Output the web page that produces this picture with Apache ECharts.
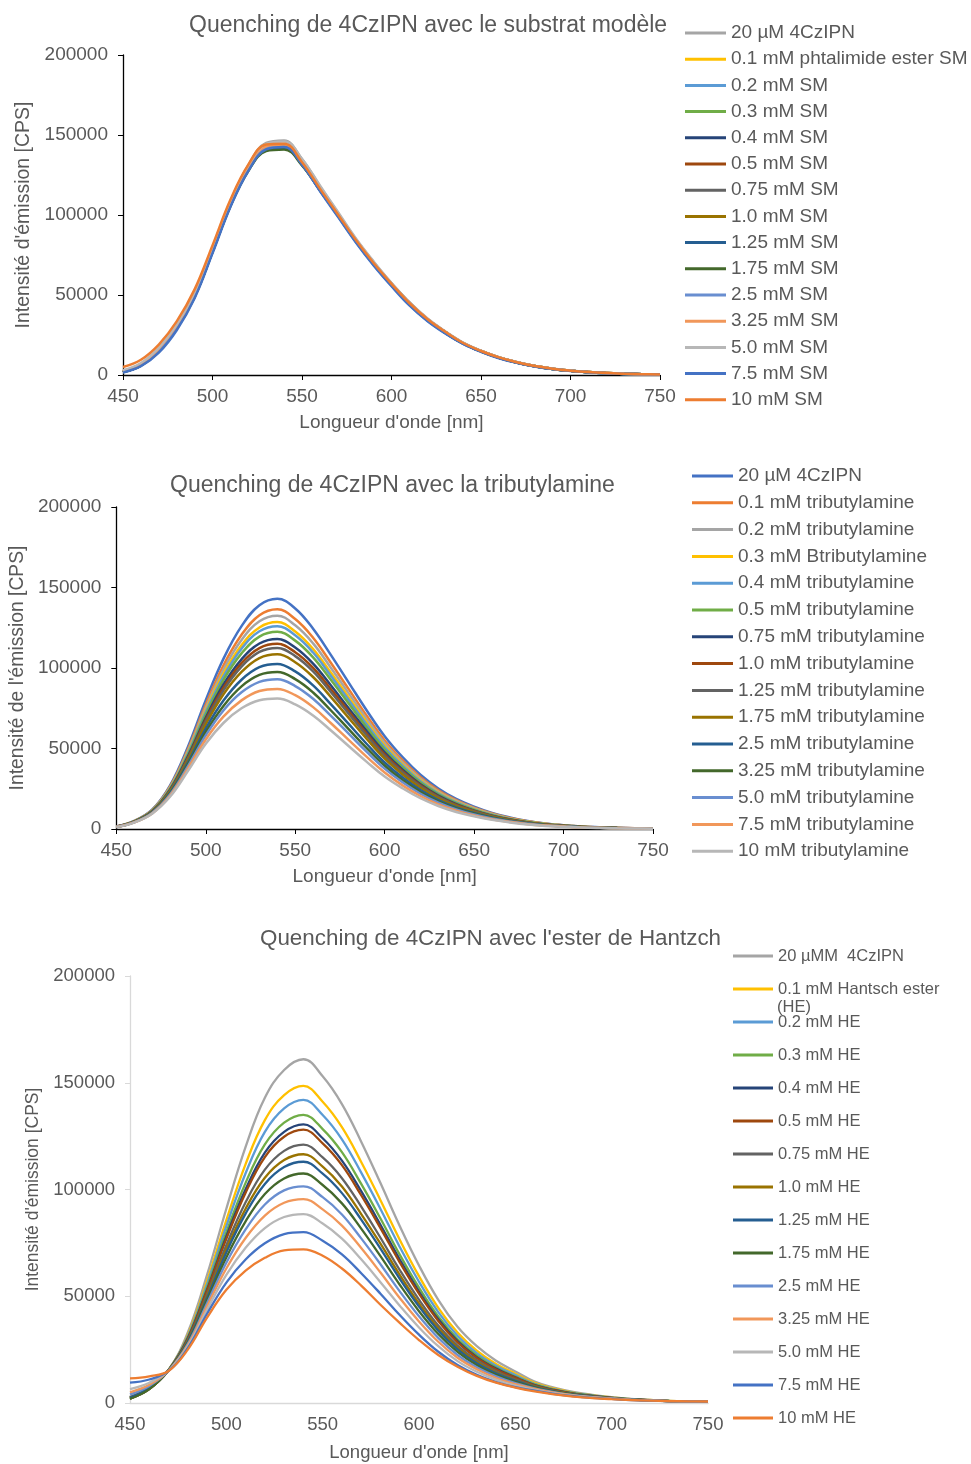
<!DOCTYPE html>
<html>
<head>
<meta charset="utf-8">
<script src="https://cdn.jsdelivr.net/npm/echarts@6/dist/echarts.min.js"></script>
<style>
  html, body { margin: 0; padding: 0; background: #fff; }
  #chart { width: 971px; height: 1464px; }
</style>
</head>
<body>
<div id="chart"></div>
<script>
// longueurs d'onde échantillonnées (nm)
const wavelengths = [450, 460, 470, 480, 490, 500, 510, 520, 530, 540, 550, 560, 570, 580, 590, 600,
  610, 620, 630, 640, 650, 660, 670, 680, 690, 700, 710, 720, 730, 740, 750];

const xTicks = [450, 500, 550, 600, 650, 700, 750];
const yTicks = [0, 50000, 100000, 150000, 200000];

// couleurs des séries (ordre Excel décalé pour les graphes 1 et 3)
const colorsA = ['#A5A5A5', '#FFC000', '#5B9BD5', '#70AD47', '#264478', '#9E480E', '#636363', '#997300',
  '#255E91', '#43682B', '#698ED0', '#F1975A', '#B7B7B7', '#4472C4', '#ED7D31'];
const colorsB = ['#4472C4', '#ED7D31', '#A5A5A5', '#FFC000', '#5B9BD5', '#70AD47', '#264478', '#9E480E',
  '#636363', '#997300', '#255E91', '#43682B', '#698ED0', '#F1975A', '#B7B7B7'];

// --- graphe 1 : substrat modèle
const namesSM = ['20 µM 4CzIPN', '0.1 mM phtalimide ester SM', '0.2 mM SM', '0.3 mM SM', '0.4 mM SM',
  '0.5 mM SM', '0.75 mM SM', '1.0 mM SM', '1.25 mM SM', '1.75 mM SM', '2.5 mM SM', '3.25 mM SM',
  '5.0 mM SM', '7.5 mM SM', '10 mM SM'];
const intensitySM = [
  [2000, 6500, 16500, 30500, 50500, 78500, 108000, 131000, 145000, 146500, 135000, 118000, 101500, 85000, 70500, 57500, 45500, 35000, 27000, 20000, 15000, 11000, 8000, 5600, 3900, 2700, 1800, 1200, 800, 500, 300],
  [2000, 6500, 16000, 30000, 50000, 78000, 107000, 129500, 142500, 144000, 133500, 117000, 101000, 84500, 70000, 57000, 45000, 35000, 27000, 20000, 15000, 11000, 8000, 5600, 3900, 2700, 1800, 1200, 800, 500, 300],
  [1800, 6000, 15500, 29500, 49500, 77500, 106500, 129000, 142000, 143000, 132500, 116000, 100000, 84000, 69500, 56500, 44500, 34500, 26500, 19800, 14800, 10800, 7800, 5500, 3800, 2600, 1700, 1100, 700, 450, 300],
  [1800, 6000, 15000, 29000, 49000, 77000, 106000, 128000, 140500, 142000, 132000, 116000, 100500, 84500, 70000, 57000, 45000, 35000, 27000, 20000, 15000, 11000, 8000, 5600, 3900, 2700, 1800, 1200, 800, 500, 300],
  [1800, 6000, 15000, 29000, 49000, 77000, 106000, 128500, 141000, 142000, 131500, 115500, 100000, 84000, 69500, 56500, 44500, 34500, 26500, 19800, 14800, 10800, 7800, 5500, 3800, 2600, 1700, 1100, 700, 450, 300],
  [2000, 6500, 15500, 30000, 50000, 78000, 107000, 129000, 142000, 143000, 132000, 116000, 100000, 84000, 70000, 57000, 45000, 35000, 27000, 20000, 15000, 11000, 8000, 5600, 3900, 2700, 1800, 1200, 800, 500, 300],
  [2000, 6500, 15500, 30000, 50000, 78000, 107000, 129000, 142500, 143500, 132500, 116500, 100500, 84500, 70000, 57000, 45000, 35000, 27000, 20000, 15000, 11000, 8000, 5600, 3900, 2700, 1800, 1200, 800, 500, 300],
  [1800, 6000, 15000, 29500, 49500, 77500, 106500, 128500, 141500, 142500, 132000, 116000, 100000, 84000, 69500, 56500, 44500, 34500, 26500, 19800, 14800, 10800, 7800, 5500, 3800, 2600, 1700, 1100, 700, 450, 300],
  [1800, 6000, 15000, 29000, 49000, 77000, 106000, 128000, 141000, 142000, 131500, 115500, 99500, 83500, 69000, 56000, 44000, 34000, 26300, 19600, 14700, 10700, 7700, 5400, 3800, 2600, 1700, 1100, 700, 450, 300],
  [1800, 5800, 14800, 28800, 48800, 76800, 105500, 127500, 140000, 141000, 131000, 115500, 100000, 84000, 69500, 56500, 44500, 34500, 26500, 19800, 14800, 10800, 7800, 5500, 3800, 2600, 1700, 1100, 700, 450, 300],
  [2000, 6500, 15500, 30000, 50000, 78000, 107000, 129000, 142000, 143000, 132000, 116000, 100000, 84000, 69500, 56500, 44500, 34500, 26500, 19800, 14800, 10800, 7800, 5500, 3800, 2600, 1700, 1100, 700, 450, 300],
  [2500, 7000, 16500, 31000, 51000, 79000, 108000, 130000, 143000, 144000, 133000, 117000, 101000, 85000, 70500, 57000, 45000, 35000, 27000, 20000, 15000, 11000, 8000, 5600, 3900, 2700, 1800, 1200, 800, 500, 300],
  [3000, 7500, 17000, 31500, 51500, 79500, 108500, 131000, 144500, 146000, 135000, 118500, 102000, 85500, 71000, 57500, 45500, 35500, 27300, 20200, 15200, 11200, 8100, 5700, 4000, 2800, 1900, 1200, 800, 500, 300],
  [1500, 5500, 14000, 28000, 48000, 76000, 105000, 127500, 141000, 142500, 131500, 115000, 99000, 83000, 68500, 55500, 43500, 33800, 26000, 19500, 14500, 10500, 7600, 5300, 3700, 2500, 1700, 1100, 700, 450, 300],
  [5000, 9500, 19000, 33500, 53500, 81000, 109500, 131500, 144000, 144500, 133000, 116500, 100500, 84500, 70000, 57000, 45000, 35000, 27000, 20000, 15000, 11000, 8000, 5600, 3900, 2700, 1800, 1200, 800, 500, 300]
];

// --- graphe 2 : tributylamine (espace final pour distinguer la légende du graphe 1)
const namesTBA = ['20 µM 4CzIPN ', '0.1 mM tributylamine', '0.2 mM tributylamine', '0.3 mM Btributylamine',
  '0.4 mM tributylamine', '0.5 mM tributylamine', '0.75 mM tributylamine', '1.0 mM tributylamine',
  '1.25 mM tributylamine', '1.75 mM tributylamine', '2.5 mM tributylamine', '3.25 mM tributylamine',
  '5.0 mM tributylamine', '7.5 mM tributylamine', '10 mM tributylamine'];
const intensityTBA = [
  [1500, 5000, 12000, 27000, 51000, 80000, 106000, 126000, 139000, 143000, 137000, 124400, 108000, 90800, 73600, 57600, 44600, 33700, 25200, 18700, 13900, 10000, 7200, 5000, 3400, 2400, 1600, 1100, 700, 500, 400],
  [1500, 4900, 11700, 26300, 49400, 77200, 101800, 120600, 132800, 136500, 130400, 118800, 103100, 86700, 70300, 55000, 42600, 32200, 24000, 17900, 13200, 9600, 6800, 4800, 3300, 2300, 1500, 1000, 700, 500, 300],
  [1450, 4800, 11600, 25800, 48500, 75400, 99200, 117400, 129000, 132500, 126500, 115300, 100000, 84100, 68200, 53400, 41300, 31300, 23300, 17400, 12900, 9300, 6600, 4600, 3200, 2300, 1500, 1000, 700, 500, 300],
  [1430, 4800, 11400, 25400, 47500, 73700, 96600, 114100, 125200, 128500, 122700, 111800, 97000, 81600, 66200, 51800, 40100, 30300, 22600, 16800, 12500, 9000, 6400, 4500, 3100, 2200, 1400, 1000, 600, 400, 300],
  [1420, 4700, 11300, 25100, 46900, 72600, 95000, 112000, 122800, 126000, 120300, 109600, 95100, 80000, 64900, 50800, 39300, 29700, 22200, 16500, 12200, 8800, 6300, 4400, 3000, 2100, 1400, 900, 600, 400, 300],
  [1400, 4700, 11200, 24700, 46000, 71100, 92800, 109100, 119500, 122500, 117000, 106600, 92500, 77800, 63100, 49400, 38200, 28900, 21600, 16000, 11900, 8600, 6100, 4300, 2900, 2100, 1300, 900, 600, 400, 300],
  [1380, 4600, 11000, 24200, 45000, 69100, 89900, 105400, 115200, 118000, 112700, 102700, 89100, 74900, 60800, 47600, 36800, 27800, 20800, 15500, 11400, 8300, 5900, 4100, 2800, 2000, 1300, 900, 600, 400, 300],
  [1360, 4500, 10900, 23800, 44200, 67800, 87900, 103000, 112300, 115000, 109800, 100100, 86800, 73000, 59200, 46300, 35900, 27100, 20200, 15100, 11200, 8100, 5800, 4000, 2800, 2000, 1300, 900, 600, 400, 300],
  [1350, 4500, 10800, 23600, 43600, 66700, 86300, 100900, 110000, 112500, 107400, 97900, 84900, 71400, 57900, 45300, 35100, 26600, 19800, 14700, 10900, 7900, 5600, 3900, 2700, 1900, 1200, 800, 600, 400, 300],
  [1330, 4400, 10600, 23100, 42700, 65000, 83800, 97600, 106200, 108500, 103600, 94400, 81900, 68900, 55900, 43700, 33900, 25600, 19100, 14200, 10500, 7600, 5400, 3800, 2600, 1800, 1200, 800, 500, 400, 300],
  [1300, 4300, 10400, 22400, 41200, 62400, 79900, 92700, 100500, 102500, 97900, 89200, 77400, 65100, 52800, 41300, 32000, 24200, 18000, 13400, 9900, 7200, 5100, 3600, 2500, 1700, 1100, 800, 500, 400, 300],
  [1280, 4300, 10200, 21900, 40000, 60200, 76600, 88600, 95700, 97500, 93100, 84800, 73600, 61900, 50200, 39300, 30400, 23000, 17200, 12800, 9500, 6800, 4900, 3400, 2300, 1700, 1100, 700, 500, 300, 200],
  [1260, 4200, 10000, 21400, 38900, 58200, 73800, 84900, 91400, 93000, 88800, 80900, 70200, 59100, 47900, 37500, 29000, 21900, 16400, 12200, 9000, 6500, 4700, 3300, 2200, 1600, 1000, 700, 500, 300, 200],
  [1230, 4100, 9700, 20700, 37500, 55600, 69900, 79900, 85700, 87000, 83100, 75700, 65700, 55200, 44800, 35100, 27100, 20500, 15300, 11400, 8400, 6100, 4400, 3000, 2100, 1500, 1000, 700, 400, 300, 200],
  [1200, 4000, 9500, 20000, 36000, 53000, 66000, 75000, 80000, 81000, 77400, 70500, 61200, 51400, 41700, 32600, 25300, 19100, 14300, 10600, 7900, 5700, 4100, 2800, 1900, 1400, 900, 600, 400, 300, 200]
];

// --- graphe 3 : ester de Hantzsch
const namesHE = ['20 µMM  4CzIPN', '0.1 mM Hantsch ester (HE)', '0.2 mM HE', '0.3 mM HE', '0.4 mM HE',
  '0.5 mM HE', '0.75 mM HE', '1.0 mM HE', '1.25 mM HE', '1.75 mM HE', '2.5 mM HE', '3.25 mM HE',
  '5.0 mM HE', '7.5 mM HE', '10 mM HE'];
const intensityHE = [
  [3000, 7500, 15500, 33000, 60000, 91000, 120000, 143000, 156000, 161000, 153000, 140000, 122400, 103000, 82900, 64400, 48300, 35700, 26600, 19800, 14800, 10000, 7200, 5200, 3800, 2700, 1900, 1400, 1000, 800, 700],
  [2500, 7500, 15500, 31900, 57200, 85700, 111900, 132500, 144200, 148500, 141100, 129200, 112900, 95000, 76500, 59400, 44600, 33000, 24500, 18300, 13700, 9400, 6800, 4900, 3600, 2600, 1800, 1400, 1000, 800, 700],
  [2500, 7000, 15400, 31300, 55700, 82900, 107600, 127000, 138000, 142000, 134900, 123500, 107900, 90900, 73100, 56800, 42600, 31500, 23400, 17500, 13100, 9000, 6500, 4700, 3500, 2500, 1800, 1300, 1000, 800, 700],
  [2000, 7000, 15400, 30700, 54200, 79900, 103100, 121100, 131300, 135000, 128300, 117500, 102600, 86400, 69500, 54000, 40500, 30000, 22300, 16600, 12400, 8700, 6300, 4600, 3400, 2400, 1700, 1300, 1000, 800, 700],
  [2000, 6500, 15300, 30300, 53100, 78000, 100100, 117300, 127000, 130500, 124000, 113500, 99200, 83500, 67200, 52200, 39200, 29000, 21500, 16100, 12000, 8400, 6100, 4400, 3300, 2400, 1700, 1300, 900, 800, 700],
  [2500, 7000, 15300, 30000, 52600, 76900, 98500, 115200, 124700, 128000, 121600, 111400, 97300, 81900, 65900, 51200, 38400, 28400, 21100, 15700, 11800, 8300, 6000, 4400, 3200, 2400, 1700, 1300, 900, 800, 700],
  [2500, 7000, 15300, 29400, 51000, 73900, 94000, 109300, 118100, 121000, 115000, 105300, 92000, 77400, 62300, 48400, 36300, 26900, 20000, 14900, 11100, 7900, 5700, 4200, 3100, 2300, 1600, 1300, 900, 800, 700],
  [2000, 6500, 15200, 29000, 50000, 72000, 91000, 105500, 113800, 116500, 110700, 101400, 88500, 74600, 60000, 46600, 35000, 25900, 19200, 14300, 10700, 7700, 5600, 4100, 3000, 2200, 1600, 1200, 900, 800, 700],
  [2500, 7000, 15200, 28700, 49200, 70500, 88700, 102600, 110500, 113000, 107400, 98300, 85900, 72300, 58200, 45200, 33900, 25100, 18600, 13900, 10400, 7500, 5500, 4000, 3000, 2200, 1600, 1200, 900, 800, 700],
  [2000, 6500, 15200, 28200, 48000, 68200, 85100, 97900, 105200, 107500, 102100, 93500, 81700, 68800, 55400, 43000, 32300, 23900, 17700, 13200, 9900, 7200, 5300, 3900, 2900, 2200, 1600, 1200, 900, 800, 700],
  [4000, 8000, 15100, 27700, 46700, 65700, 81300, 93000, 99600, 101500, 96400, 88300, 77100, 65000, 52300, 40600, 30500, 22500, 16700, 12500, 9300, 6900, 5100, 3700, 2800, 2100, 1600, 1200, 900, 800, 700],
  [5000, 8500, 15100, 27100, 45300, 63000, 77300, 87800, 93800, 95500, 90700, 83100, 72600, 61100, 49200, 38200, 28700, 21200, 15800, 11700, 8800, 6600, 4800, 3600, 2700, 2000, 1500, 1200, 900, 800, 700],
  [6500, 9500, 15100, 26500, 43700, 60000, 72700, 81900, 87100, 88500, 84100, 77000, 67300, 56600, 45600, 35400, 26600, 19600, 14600, 10900, 8100, 6200, 4600, 3400, 2600, 2000, 1500, 1100, 900, 800, 700],
  [9500, 11000, 15000, 25700, 41800, 56400, 67200, 74800, 79100, 80000, 76000, 69600, 60800, 51200, 41200, 32000, 24000, 17800, 13200, 9800, 7400, 5800, 4300, 3200, 2400, 1900, 1400, 1100, 900, 800, 700],
  [11500, 12500, 15000, 25000, 40000, 53000, 62000, 68000, 71500, 72000, 69000, 63000, 55000, 46000, 37500, 29500, 22500, 17000, 12700, 9500, 7200, 5400, 4000, 3000, 2300, 1800, 1400, 1100, 900, 800, 700]
];

const titles = [
  'Quenching de 4CzIPN avec le substrat modèle',
  'Quenching de 4CzIPN avec la tributylamine',
  "Quenching de 4CzIPN avec l'ester de Hantzch"
];
const yNames = ["Intensité d'émission [CPS]", "Intensité de l'émission [CPS]", "Intensité d'émission [CPS]"];
const xName = "Longueur d'onde [nm]";

const FONT = "'Liberation Sans', Arial, sans-serif";
const TXT = '#595959';

// position des trois graphes (px)
const grids = [
  { left: 123, top: 55, width: 537, height: 320 },
  { left: 114, top: 507, width: 539, height: 322 },
  { left: 130, top: 976, width: 578, height: 427 }
];
const panels = [
  { names: namesSM, colors: colorsA, data: intensitySM, lw: 2.5, axis: '#000', tickSize: 19, yGap: 80, yFont: 19.5, xFont: 19, xGap: 38 },
  { names: namesTBA, colors: colorsB, data: intensityTBA, lw: 2.5, axis: '#000', tickSize: 19, yGap: 80, yFont: 19.3, xFont: 19, xGap: 38 },
  { names: namesHE, colors: colorsA, data: intensityHE, lw: 2.3, axis: '#D9D9D9', tickSize: 18.5, yGap: 78, yFont: 17.5, xFont: 18.5, xGap: 40 }
];

const chart = echarts.init(document.getElementById('chart'));

const series = [];
panels.forEach(function (p, k) {
  p.names.forEach(function (name, i) {
    series.push({
      name: name,
      type: 'line',
      xAxisIndex: k,
      yAxisIndex: k,
      symbol: 'none',
      smooth: 0.4,
      color: p.colors[i],
      lineStyle: { width: p.lw },
      data: wavelengths.map(function (w, j) { return [w, p.data[i][j]]; })
    });
  });
});

const option = {
  animation: false,
  backgroundColor: '#fff',
  textStyle: { fontFamily: FONT },
  title: [
    { text: titles[0], left: 184, top: 9, textStyle: { fontSize: 23, fontWeight: 'normal', color: TXT, fontFamily: FONT } },
    { text: titles[1], left: 165, top: 469, textStyle: { fontSize: 23, fontWeight: 'normal', color: TXT, fontFamily: FONT } },
    { text: titles[2], left: 255, top: 923, textStyle: { fontSize: 22.4, fontWeight: 'normal', color: TXT, fontFamily: FONT } }
  ],
  legend: [
    { data: namesSM, orient: 'vertical', left: 685, top: 23, padding: 0, itemGap: 6.2, itemWidth: 41, itemHeight: 3, icon: 'rect',
      textStyle: { fontSize: 19, color: TXT, lineHeight: 20, fontFamily: FONT } },
    { data: namesTBA, orient: 'vertical', left: 692, top: 466, padding: 0, itemGap: 6.8, itemWidth: 41, itemHeight: 3, icon: 'rect',
      textStyle: { fontSize: 19, color: TXT, lineHeight: 20, fontFamily: FONT } },
    { data: namesHE, orient: 'vertical', left: 733, top: 947, padding: 0, itemGap: 15, itemWidth: 40, itemHeight: 3, icon: 'rect',
      formatter: function (n) { return n.replace(' (HE)', ''); },
      textStyle: { fontSize: 16.5, color: TXT, lineHeight: 18, fontFamily: FONT } }
  ],
  graphic: [
    { type: 'text', left: 777, top: 999, style: { text: '(HE)', fontSize: 16.5, fill: TXT, fontFamily: FONT } }
  ],
  grid: grids.map(function (g) { return Object.assign({ containLabel: false }, g); }),
  xAxis: panels.map(function (p, k) {
    return {
      type: 'value', gridIndex: k, min: xTicks[0], max: xTicks[xTicks.length - 1], interval: 50,
      name: xName, nameLocation: 'middle', nameGap: p.xGap,
      nameTextStyle: { fontSize: p.xFont, color: TXT, fontFamily: FONT },
      axisLine: { lineStyle: { color: p.axis, width: 1.3 } },
      axisTick: { show: k !== 2, length: 5, lineStyle: { color: p.axis } },
      axisLabel: { fontSize: p.tickSize, color: TXT, margin: 12, fontFamily: FONT },
      splitLine: { show: false }
    };
  }),
  yAxis: panels.map(function (p, k) {
    return {
      type: 'value', gridIndex: k, min: yTicks[0], max: yTicks[yTicks.length - 1], interval: 50000,
      name: yNames[k], nameLocation: 'middle', nameGap: p.yGap,
      nameTextStyle: { fontSize: p.yFont, color: TXT, fontFamily: FONT },
      axisLine: { show: true, lineStyle: { color: p.axis, width: 1.3 } },
      axisTick: { show: true, length: 5, lineStyle: { color: p.axis } },
      axisLabel: { fontSize: p.tickSize, color: TXT, margin: 15, fontFamily: FONT,
        formatter: function (v) { return String(v); } },
      splitLine: { show: false }
    };
  }),
  series: series
};

chart.setOption(option);
</script>
</body>
</html>
